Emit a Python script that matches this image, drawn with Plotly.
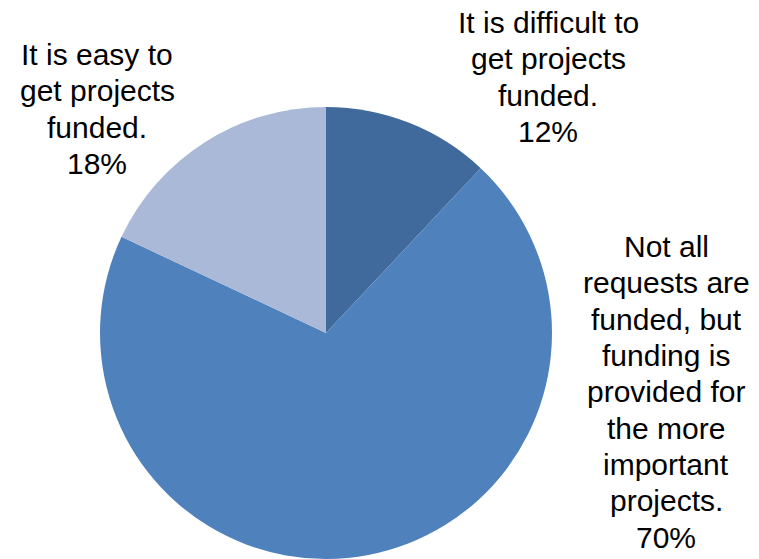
import plotly.graph_objects as go

# Survey responses on project funding
categories = [
    "It is difficult to<br>get projects<br>funded.",
    "Not all<br>requests are<br>funded, but<br>funding is<br>provided for<br>the more<br>important<br>projects.",
    "It is easy to<br>get projects<br>funded.",
]
shares = [12, 70, 18]
slice_colors = ["#3F6A9B", "#4F81BD", "#AAB9D7"]

W, H = 759, 559

# pie placement in pixels (centre and radius)
cx, cy, r = 326, 333, 226

fig = go.Figure(
    go.Pie(
        labels=categories,
        values=shares,
        sort=False,
        direction="clockwise",
        rotation=0,
        marker=dict(colors=slice_colors, line=dict(width=0)),
        textinfo="none",
        hoverinfo="label+percent",
        domain=dict(
            x=[(cx - r) / W, (cx + r) / W],
            y=[1 - (cy + r) / H, 1 - (cy - r) / H],
        ),
        showlegend=False,
    )
)

# category labels with their percentages, one annotation per line so the
# line pitch can be set independently of the font size
FONT_SIZE = 30
LINE_PITCH = 36.3
label_anchor = [(548, 33), (666, 257), (97, 65)]  # centre x, first baseline y (px)

total = sum(shares)
for cat, val, (lx, base0) in zip(categories, shares, label_anchor):
    lines = cat.split("<br>") + [f"{round(100 * val / total)}%"]
    for i, line in enumerate(lines):
        baseline = base0 + i * LINE_PITCH
        mid = baseline - 0.3465 * FONT_SIZE
        fig.add_annotation(
            x=lx / W,
            y=1 - mid / H,
            xref="paper",
            yref="paper",
            xanchor="center",
            yanchor="middle",
            text=line,
            showarrow=False,
            align="center",
            font=dict(family="Liberation Sans, Arial, sans-serif",
                      size=FONT_SIZE, color="#000000"),
        )

fig.update_layout(
    width=W,
    height=H,
    margin=dict(l=0, r=0, t=0, b=0),
    paper_bgcolor="#FFFFFF",
    plot_bgcolor="#FFFFFF",
)

fig.write_html("out.html")
